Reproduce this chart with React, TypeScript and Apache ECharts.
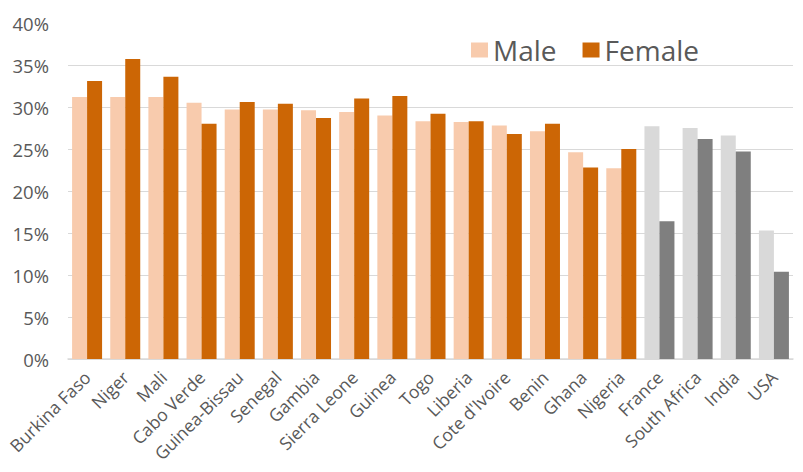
import React, { useEffect, useRef } from "react";
import * as echarts from "echarts";

const categories = [
  "Burkina Faso", "Niger", "Mali", "Cabo Verde", "Guinea-Bissau", "Senegal", "Gambia",
  "Sierra Leone", "Guinea", "Togo", "Liberia", "Cote d'Ivoire", "Benin", "Ghana",
  "Nigeria", "France", "South Africa", "India", "USA",
];
const maleValues = [31.2, 31.2, 31.2, 30.5, 29.7, 29.7, 29.6, 29.4, 29.0, 28.3, 28.2, 27.8, 27.1, 24.6, 22.7, 27.7, 27.5, 26.6, 15.3];
const femaleValues = [33.1, 35.7, 33.6, 28.0, 30.6, 30.4, 28.7, 31.0, 31.3, 29.2, 28.3, 26.8, 28.0, 22.8, 25.0, 16.4, 26.2, 24.7, 10.4];
const yTicks = [0, 5, 10, 15, 20, 25, 30, 35, 40];
const comparisonStart = 15; // index of first non-West-African comparison country

const MALE = "#F8CBAD";
const FEMALE = "#CC6605";
const MALE_GRAY = "#D9D9D9";
const FEMALE_GRAY = "#7F7F7F";

export default function App() {
  const ref = useRef<HTMLDivElement>(null);
  useEffect(() => {
    if (!ref.current) return;
    const chart = echarts.init(ref.current, null, { renderer: "svg" });
    const font = "'Open Sans', 'Noto Sans', sans-serif";
    const build = (vals: number[], c: string, g: string) =>
      vals.map((v, i) => ({ value: v, itemStyle: { color: i >= comparisonStart ? g : c } }));
    chart.setOption({
      animation: false,
      textStyle: { fontFamily: font },
      legend: {
        left: 466,
        top: 31,
        icon: "rect",
        itemWidth: 17,
        itemHeight: 15,
        itemGap: 26,
        textStyle: { fontSize: 28, color: "#595959", fontFamily: font },
        data: [
          { name: "Male", itemStyle: { color: MALE } },
          { name: "Female", itemStyle: { color: FEMALE } },
        ],
      },
      grid: { left: 68, right: 10, top: 23, bottom: 113, containLabel: false },
      xAxis: {
        type: "category",
        data: categories,
        axisTick: { show: false },
        axisLine: { lineStyle: { color: "#D9D9D9", width: 1.5 } },
        axisLabel: {
          rotate: 45,
          interval: 0,
          fontSize: 17.5,
          color: "#595959",
          margin: 15,
          fontFamily: font,
        },
      },
      yAxis: {
        type: "value",
        min: yTicks[0],
        max: yTicks[yTicks.length - 1],
        interval: 5,
        axisLine: { show: false },
        axisTick: { show: false },
        axisLabel: {
          formatter: (v: number) => `${v}%`,
          fontSize: 18.5,
          color: "#595959",
          margin: 19,
          fontFamily: font,
        },
        splitLine: {
          lineStyle: {
            color: ["#D9D9D9", "#D9D9D9", "#D9D9D9", "#D9D9D9", "#D9D9D9", "#D9D9D9", "#D9D9D9", "#D9D9D9", "rgba(0,0,0,0)"],
            width: 1,
          },
        },
      },
      series: [
        {
          name: "Male",
          type: "bar",
          barWidth: 15,
          barGap: "0%",
          itemStyle: { color: MALE },
          data: build(maleValues, MALE, MALE_GRAY),
        },
        {
          name: "Female",
          type: "bar",
          barWidth: 15,
          barGap: "0%",
          itemStyle: { color: FEMALE },
          data: build(femaleValues, FEMALE, FEMALE_GRAY),
        },
      ],
    });
    return () => chart.dispose();
  }, []);
  return (
    <div
      ref={ref}
      style={{ position: "fixed", left: 0, top: 0, width: 803, height: 472, background: "#fff" }}
    />
  );
}
